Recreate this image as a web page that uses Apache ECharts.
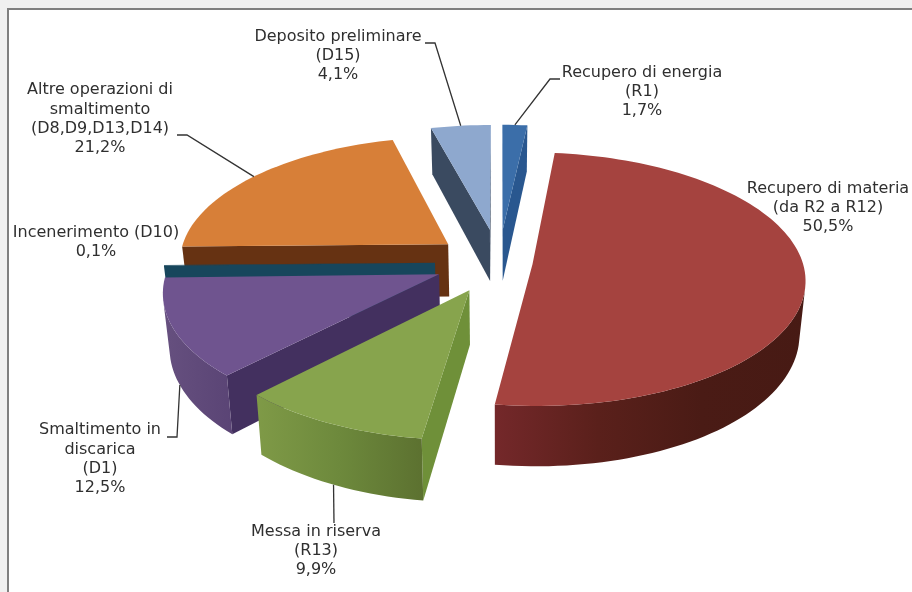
<!DOCTYPE html>
<html>
<head>
<meta charset="utf-8">
<style>html,body{margin:0;padding:0;background:#f0f0f0}#chart{width:912px;height:592px}</style>
<script src="https://cdn.jsdelivr.net/npm/echarts@6/dist/echarts.min.js"></script>
</head>
<body>
<div id="chart"></div>
<script>
// Share of waste by treatment route, in percent, clockwise from twelve o'clock.
const categories = [
  'Recupero di energia\n(R1)',
  'Recupero di materia\n(da R2 a R12)',
  'Messa in riserva\n(R13)',
  'Smaltimento in\ndiscarica\n(D1)',
  'Incenerimento (D10)',
  'Altre operazioni di\nsmaltimento\n(D8,D9,D13,D14)',
  'Deposito preliminare\n(D15)'
];
const shares = [1.7, 50.5, 9.9, 12.5, 0.1, 21.2, 4.1];
const explode = [0.27, 0.125, 0.246, 0.24, 0.237, 0.24, 0.27];

// Colours of each slice: top face, curved wall (left to right), straight cut wall.
const topColors = ['#3b6ea9', '#a5433f', '#87a44d', '#6f548f', '#17465c', '#d77f38', '#8ea8ce'];
const wallColors = [
  ['#2a5a97', '#2a5a97'],
  ['#74282a', '#5a201b', '#4a1b15', '#471a14'],
  ['#7f9a47', '#6d893c', '#5c7130'],
  ['#66507f', '#5a4475'],
  ['#17465c', '#17465c'],
  ['#6b3512', '#663212'],
  ['#3a4a5e', '#3a4a5e']
];
const cutColors = ['#29578f', '#5a201b', '#6f9039', '#43305f', '#17465c', '#663212', '#3a4a60'];

// Far-to-near order in which the slices are painted.
const paintOrder = [0, 6, 5, 4, 3, 2, 1];

// Where each label's text sits and, if it has one, how its leader runs.
const labelBoxes = [
  { x: 642, y: 92,  leader: [[560, 79], [550, 79]], face: 'top' },
  { x: 828, y: 208 },
  { x: 316, y: 551, leader: [[334, 523]], face: 'base' },
  { x: 100, y: 459, leader: [[167, 437], [177, 437]], face: 'base' },
  { x: 96,  y: 242 },
  { x: 100, y: 119, leader: [[177, 135], [187, 135]], face: 'top' },
  { x: 338, y: 56,  leader: [[425, 43], [435, 43]], face: 'top' }
];

// Perspective of the pie's plane on the page.
const view = { cx: 499, cy: 262, ax: 270, ay: 124.5, depth: 0.12, height: 53, baseShrink: 0.98 };

function project(X, Y, onBase) {
  const s = 1 / (1 - Y * view.depth);
  const x = view.cx + view.ax * X * s;
  const y = view.cy + view.ay * Y * s;
  if (!onBase) return [x, y];
  return [view.cx + (x - view.cx) * view.baseShrink, y + view.height * s];
}

const total = shares.reduce((a, b) => a + b, 0);
const slices = [];
let running = 0;
shares.forEach((v, i) => {
  const a0 = running / total * 2 * Math.PI;
  running += v;
  const a1 = running / total * 2 * Math.PI;
  const mid = (a0 + a1) / 2;
  slices.push({ a0, a1, mid, ox: explode[i] * Math.sin(mid), oy: -explode[i] * Math.cos(mid) });
});

const rim = (sl, a, onBase) => project(sl.ox + Math.sin(a), sl.oy - Math.cos(a), onBase);
const apex = (sl, onBase) => project(sl.ox, sl.oy, onBase);

function signedArea(poly) {
  let sum = 0;
  poly.forEach((p, i) => {
    const q = poly[(i + 1) % poly.length];
    sum += p[0] * q[1] - q[0] * p[1];
  });
  return sum / 2;
}

function wallFill(stops) {
  return {
    type: 'linear', x: 0, y: 0, x2: 1, y2: 0,
    colorStops: stops.map((c, i) => ({ offset: i / (stops.length - 1), color: c }))
  };
}
const polygon = (points, fill) => ({
  type: 'polygon',
  shape: { points },
  style: { fill, stroke: null }
});

function renderSlice(params, api) {
  const i = api.value(0);
  const sl = slices[i];
  const steps = Math.max(2, Math.ceil((sl.a1 - sl.a0) / 0.03));
  const angles = [];
  for (let k = 0; k <= steps; k++) angles.push(sl.a0 + (sl.a1 - sl.a0) * k / steps);
  const topRim = angles.map(a => rim(sl, a, false));
  const baseRim = angles.map(a => rim(sl, a, true));
  const children = [];

  // A wall is in view when its outline runs against the top face's outline.
  const inView = quad => signedArea(quad) < 0;

  [[apex(sl, false), topRim[0], baseRim[0], apex(sl, true)],
   [topRim[steps], apex(sl, false), apex(sl, true), baseRim[steps]]].forEach(quad => {
    if (inView(quad)) children.push(polygon(quad, cutColors[i]));
  });

  // Neighbouring visible rim segments merge into one shaded strip.
  let run = null;
  const flush = () => {
    if (!run) return;
    const outline = run.top.concat(run.base.reverse());
    children.push(polygon(outline, wallFill(wallColors[i])));
    run = null;
  };
  for (let k = 0; k < steps; k++) {
    const quad = [topRim[k], topRim[k + 1], baseRim[k + 1], baseRim[k]];
    if (inView(quad)) {
      if (!run) run = { top: [topRim[k]], base: [baseRim[k]] };
      run.top.push(topRim[k + 1]);
      run.base.push(baseRim[k + 1]);
    } else {
      flush();
    }
  }
  flush();

  children.push(polygon([apex(sl, false)].concat(topRim), topColors[i]));
  return { type: 'group', children };
}

function renderLabel(params, api) {
  const i = api.value(0);
  const box = labelBoxes[i];
  const children = [];
  if (box.leader) {
    const sl = slices[i];
    const points = box.leader.slice();
    points.push(rim(sl, sl.mid, box.face === 'base'));
    children.push({
      type: 'polyline',
      shape: { points },
      style: { stroke: '#333333', lineWidth: 1.3, fill: null }
    });
  }
  const percent = shares[i].toFixed(1).replace('.', ',') + '%';
  children.push({
    type: 'text',
    style: {
      x: box.x, y: box.y,
      text: categories[i] + '\n' + percent,
      align: 'center', verticalAlign: 'middle',
      font: '16px "DejaVu Sans"',
      lineHeight: 19.3,
      fill: '#2f2f2f'
    }
  });
  return { type: 'group', children };
}

const chart = echarts.init(document.getElementById('chart'), null, { renderer: 'canvas' });
chart.setOption({
  animation: false,
  backgroundColor: '#f0f0f0',
  graphic: [{
    type: 'rect',
    z: -1,
    shape: { x: 8, y: 9, width: 920, height: 600 },
    style: { fill: '#ffffff', stroke: '#7f7f7f', lineWidth: 2 }
  }],
  series: [
    {
      type: 'custom',
      coordinateSystem: 'none',
      renderItem: renderSlice,
      data: paintOrder.map(i => [i]),
      silent: true,
      z: 2
    },
    {
      type: 'custom',
      coordinateSystem: 'none',
      renderItem: renderLabel,
      data: categories.map((c, i) => [i]),
      silent: true,
      z: 3
    }
  ]
});
</script>
</body>
</html>
